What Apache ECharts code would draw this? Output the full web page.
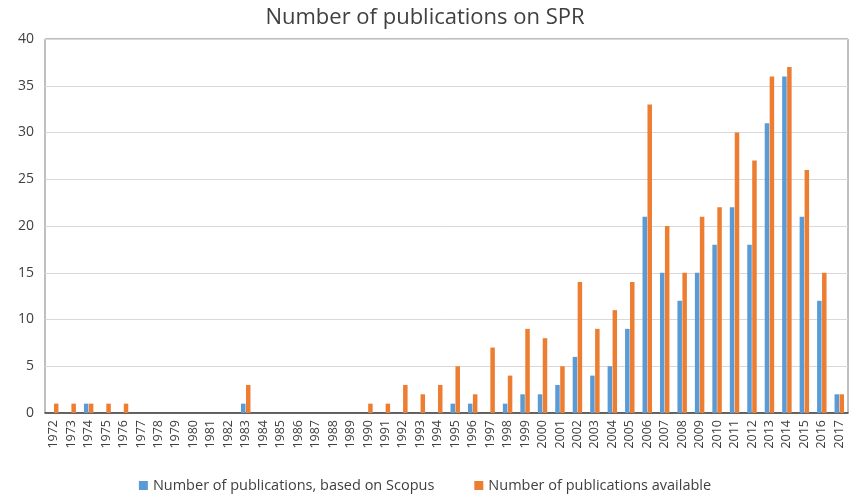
<!DOCTYPE html>
<html><head><meta charset="utf-8">
<script src="https://cdn.jsdelivr.net/npm/echarts@6/dist/echarts.min.js"></script>
<style>html,body{margin:0;padding:0;background:#fff}#c{width:850px;height:497px}</style>
</head><body><div id="c"></div>
<script>
const years = [];
for (let y = 1972; y <= 2017; y++) years.push(String(y));
const scopus = [0,0,1,0,0,0,0,0,0,0,0,1,0,0,0,0,0,0,0,0,0,0,0,1,1,0,1,2,2,3,6,4,5,9,21,15,12,15,18,22,18,31,36,21,12,2];
const available = [1,1,1,1,1,0,0,0,0,0,0,3,0,0,0,0,0,0,1,1,3,2,3,5,2,7,4,9,8,5,14,9,11,14,33,20,15,21,22,30,27,36,37,26,15,2];
const yTicks = [0,5,10,15,20,25,30,35,40];
const seriesNames = ['Number of publications, based on Scopus','Number of publications available'];

const chart = echarts.init(document.getElementById('c'));
chart.setOption({
  animation:false,
  title:{text:'Number of publications on SPR',left:'center',top:2,textStyle:{fontFamily:'Open Sans',fontWeight:'normal',fontSize:22,color:'#404040'}},
  legend:{bottom:-1,left:'center',itemWidth:9,itemHeight:9,itemGap:40,icon:'rect',textStyle:{fontFamily:'Open Sans',fontSize:14.5,color:'#404040'},data:seriesNames},
  grid:{left:45,right:2,top:39,bottom:84,show:true,borderColor:'#7f7f7f',borderWidth:1},
  xAxis:{type:'category',data:years,axisTick:{show:false},axisLine:{lineStyle:{color:'#404040',width:1.5}},
    axisLabel:{rotate:90,interval:0,fontFamily:'Open Sans',fontSize:12.5,color:'#404040',margin:7}},
  yAxis:{type:'value',min:0,max:40,interval:5,axisLine:{show:false},axisTick:{show:false},
    splitLine:{lineStyle:{color:'#d9d9d9'}},
    axisLabel:{fontFamily:'Open Sans',fontSize:14,color:'#404040',margin:11,formatter:v=>yTicks.includes(v)?String(v):''}},
  series:[
    {name:seriesNames[0],type:'bar',data:scopus,barWidth:4.5,barGap:'10%',itemStyle:{color:'#5B9BD5'}},
    {name:seriesNames[1],type:'bar',data:available,barWidth:4.5,itemStyle:{color:'#ED7D31'}}
  ]
});
</script></body></html>
